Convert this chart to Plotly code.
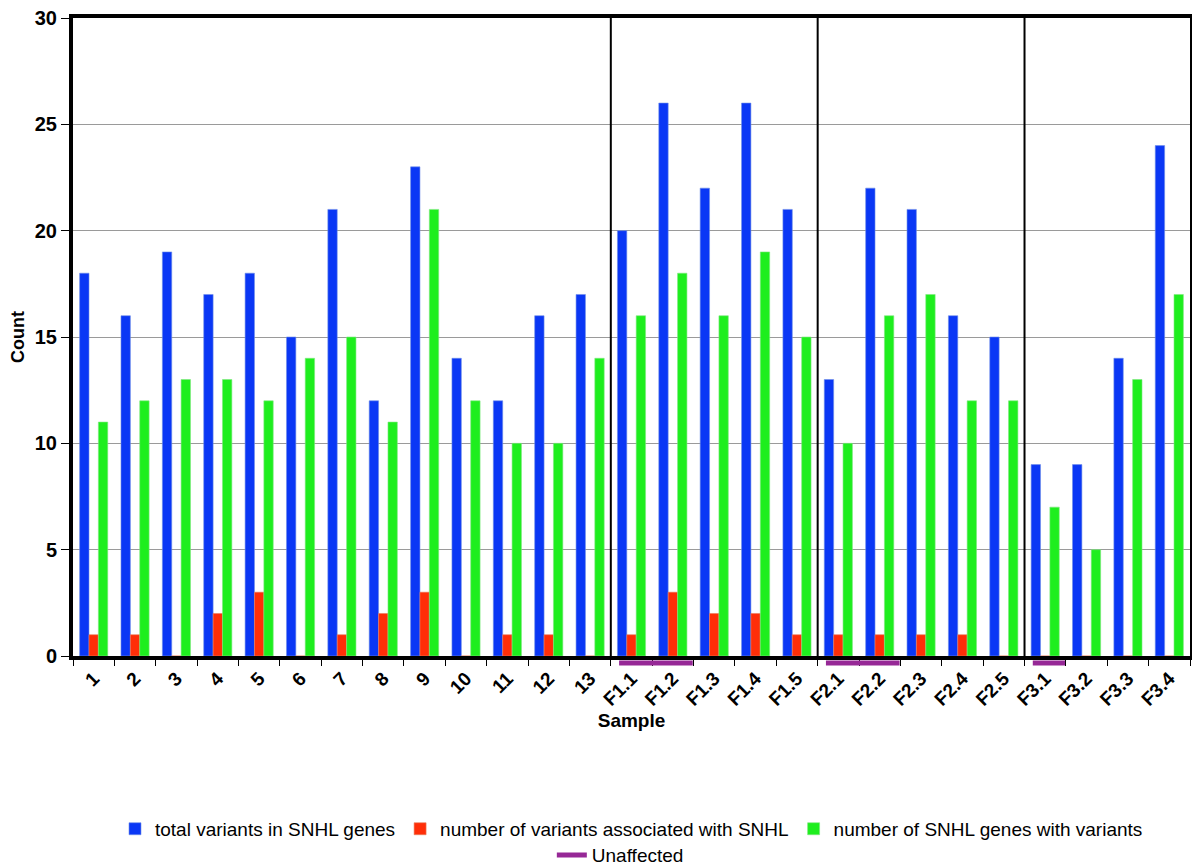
import plotly.graph_objects as go

samples = ["1", "2", "3", "4", "5", "6", "7", "8", "9", "10", "11", "12", "13",
           "F1.1", "F1.2", "F1.3", "F1.4", "F1.5",
           "F2.1", "F2.2", "F2.3", "F2.4", "F2.5",
           "F3.1", "F3.2", "F3.3", "F3.4"]
total_variants = [18, 16, 19, 17, 18, 15, 21, 12, 23, 14, 12, 16, 17,
                  20, 26, 22, 26, 21,
                  13, 22, 21, 16, 15,
                  9, 9, 14, 24]
assoc_variants = [1, 1, 0, 2, 3, 0, 1, 2, 3, 0, 1, 1, 0,
                  1, 3, 2, 2, 1,
                  1, 1, 1, 1, 0,
                  0, 0, 0, 0]
genes_with_variants = [11, 12, 13, 13, 12, 14, 15, 11, 21, 12, 10, 10, 14,
                       16, 18, 16, 19, 15,
                       10, 16, 17, 12, 12,
                       7, 5, 13, 17]
unaffected_groups = [["F1.1", "F1.2"], ["F2.1", "F2.2"], ["F3.1"]]
y_ticks = [0, 5, 10, 15, 20, 25, 30]

series_names = ["total variants in SNHL genes",
                "number of variants associated with SNHL",
                "number of SNHL genes with variants"]
colors = ["#0A37F5", "#FF2E08", "#1EEE1E"]
edges = ["#6F8FE8", "#E88060", "#80E880"]

fig = go.Figure()
for name, vals, c, e in zip(series_names,
                            [total_variants, assoc_variants, genes_with_variants],
                            colors, edges):
    fig.add_trace(go.Bar(x=samples, y=vals, name=name,
                         marker=dict(color=c, line=dict(color=e, width=0.6)),
                         legend="legend"))

# family separators
def family(s):
    return s.split(".")[0] if s.startswith("F") else "ind"

for i in range(1, len(samples)):
    if family(samples[i]) != family(samples[i - 1]):
        fig.add_shape(type="line", xref="x", yref="paper",
                      x0=i - 0.5, x1=i - 0.5, y0=0, y1=1,
                      line=dict(color="black", width=2), layer="above")

# unaffected markers below the axis
for k, grp in enumerate(unaffected_groups):
    i0 = samples.index(grp[0])
    i1 = samples.index(grp[-1])
    fig.add_shape(type="line", xref="x", yref="paper",
                  x0=i0 - 0.3, x1=i1 + 0.48, y0=-0.011, y1=-0.011,
                  line=dict(color="#962896", width=5),
                  name="Unaffected", showlegend=(k == 0), legend="legend2")

legend_font = dict(size=19, family="Liberation Sans, Arial, sans-serif")

fig.update_layout(
    width=1192, height=858,
    margin=dict(l=65, r=10, t=10, b=210, autoexpand=False),
    plot_bgcolor="white", paper_bgcolor="white",
    barmode="group", bargap=0.32, bargroupgap=0,
    font=dict(family="Liberation Sans, Arial, sans-serif", color="black"),
    xaxis=dict(
        type="category", categoryorder="array", categoryarray=samples,
        tickangle=-45, tickfont=dict(size=19, weight="bold"),
        ticks="outside", tickson="boundaries", ticklen=6, tickwidth=1, tickcolor="black",
        showline=True, linewidth=4, linecolor="black", mirror=True,
        showgrid=False, automargin=False,
        title=dict(text="<b>Sample</b>", font=dict(size=19), standoff=2),
    ),
    yaxis=dict(
        range=[0, 30], tickvals=y_ticks,
        tickfont=dict(size=20, weight="bold"), ticklabeloverflow="allow",
        ticks="outside", ticklen=8, tickwidth=1, tickcolor="black",
        showline=True, linewidth=4, linecolor="black", mirror=True,
        showgrid=True, gridcolor="#9A9A9A", gridwidth=1,
        zeroline=False, automargin=False,
        title=dict(text="<b>Count</b>", font=dict(size=18), standoff=12),
    ),
    legend=dict(orientation="h", x=0.5, xanchor="center", y=-0.271, yanchor="middle",
                font=legend_font, itemwidth=30, tracegroupgap=0),
    legend2=dict(orientation="h", x=0.49, xanchor="center", y=-0.312, yanchor="middle",
                 font=legend_font),
)

fig.write_html("out.html")
